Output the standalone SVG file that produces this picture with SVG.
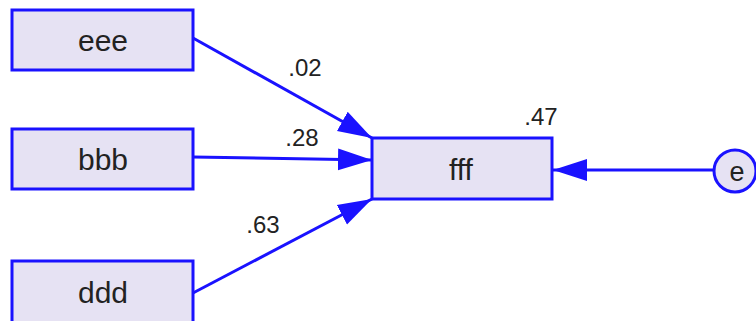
<svg xmlns="http://www.w3.org/2000/svg" width="756" height="321" viewBox="0 0 756 321">
<style>
.box{fill:#e6e2f3;stroke:#1a12ff;stroke-width:3}
.lbl{font-family:"Liberation Sans",Arial,sans-serif;font-size:30px;fill:#222;text-anchor:middle}
.num{font-family:"Liberation Sans",Arial,sans-serif;font-size:24px;fill:#222;text-anchor:middle}
.edge{stroke:#1a12ff;stroke-width:3;fill:none;marker-end:url(#ah)}
</style>
<defs>
<marker id="ah" markerUnits="userSpaceOnUse" markerWidth="36" markerHeight="24" refX="34" refY="11" orient="auto" viewBox="0 0 36 22">
<path d="M0,0 L34,11 L0,22 Z" fill="#1a12ff"/>
</marker>
</defs>
<rect width="756" height="321" fill="#ffffff"/>
<g id="connectors">
<line class="edge" x1="193" y1="38" x2="372" y2="138"/>
<line class="edge" x1="193" y1="157" x2="372" y2="160"/>
<line class="edge" x1="193" y1="293" x2="372" y2="199"/>
<line class="edge" x1="713" y1="170" x2="553" y2="170"/>
<text class="num" x="305" y="76">.02</text>
<text class="num" x="302" y="146">.28</text>
<text class="num" x="263" y="233">.63</text>
</g>
<g id="eee"><rect class="box" x="12" y="10" width="181" height="60"/><text class="lbl" x="103" y="51">eee</text></g>
<g id="bbb"><rect class="box" x="12" y="129" width="181" height="60"/><text class="lbl" x="103" y="170">bbb</text></g>
<g id="ddd"><rect class="box" x="12" y="261" width="181" height="62"/><text class="lbl" x="103" y="303">ddd</text></g>
<g id="fff"><rect class="box" x="372" y="138" width="180" height="61"/><text class="lbl" x="461" y="180">fff</text><text class="num" x="541" y="125">.47</text></g>
<g id="e"><circle class="box" cx="735" cy="171" r="21"/><text class="lbl" x="737" y="181" style="font-size:27px">e</text></g>
</svg>
